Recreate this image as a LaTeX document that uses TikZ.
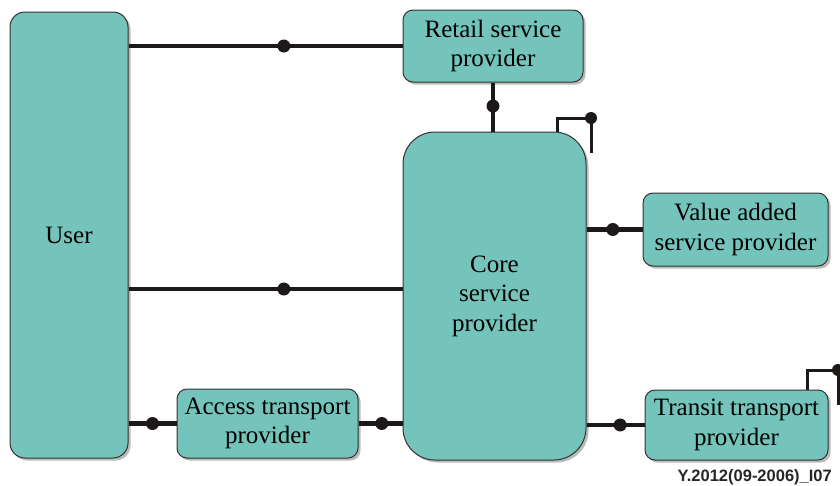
\documentclass[tikz,border=0pt]{standalone}
\usepackage{fontspec}
\setmainfont{Liberation Serif}
\newfontfamily\labelfont{Liberation Sans}
\usetikzlibrary{shadows,calc}
\definecolor{boxfill}{RGB}{116,196,187}
\definecolor{boxline}{RGB}{50,50,50}
\definecolor{linecol}{RGB}{30,25,25}
\tikzset{
  prov/.style={draw=boxline, line width=1pt, fill=boxfill, align=center,
    font=\fontsize{25}{29.5}\selectfont, inner sep=0pt,
    drop shadow={shadow xshift=2.5pt, shadow yshift=-2.5pt, fill=black!45, opacity=0.6}},
  conn/.style={draw=linecol, line width=4.5pt},
  loopline/.style={draw=linecol, line width=3pt},
  junction/.style={circle, fill=linecol, inner sep=0pt, minimum size=13pt}
}
\begin{document}
\begin{tikzpicture}[x=1pt,y=-1pt]
\useasboundingbox (0,0) rectangle (840,485);
\clip (0,0) rectangle (840,485);
\node[prov, minimum width=118pt, minimum height=446pt, rounded corners=15pt] (user) at (69,235) {User};
\node[prov, minimum width=180pt, minimum height=72pt, rounded corners=10pt] (retail) at (493,46) {Retail service\\provider};
\node[prov, minimum width=183pt, minimum height=328pt, rounded corners=32pt] (core) at (494.5,296) {Core\\service\\provider};
\node[prov, minimum width=185pt, minimum height=73pt, rounded corners=10pt] (value) at (735.5,229.5) {Value added\\service provider};
\node[prov, minimum width=181pt, minimum height=69pt, rounded corners=10pt] (access) at (267.5,423.5) {Access transport\\provider};
\node[prov, minimum width=183pt, minimum height=70pt, rounded corners=10pt] (transit) at (736.5,425) {Transit transport\\provider};
\node[font=\labelfont\bfseries\fontsize{16.5}{18}\selectfont, anchor=east, text=black!85, inner sep=0pt] (tag) at (832,477) {Y.2012(09-2006)\_I07};

% connectors
\draw[conn] (user.east |- retail.west) -- node[junction, pos=0.567] (j1) {} (retail.west);
\coordinate (ucy) at (0,289);
\draw[conn] (user.east |- ucy) -- node[junction, pos=0.567] (j2) {} (core.west |- ucy);
\draw[conn] (user.east |- access.west) -- node[junction, pos=0.5] (j3) {} (access.west);
\draw[conn] (access.east) -- node[junction, pos=0.53] (j4) {} (core.west |- access.east);
\draw[conn] (retail.south) -- node[junction, pos=0.48] (j5) {} (core.north -| retail.south);
\draw[conn] (core.east |- value.west) -- node[junction, pos=0.47] (j6) {} (value.west);
\draw[conn] (core.east |- transit.west) -- node[junction, pos=0.58] (j7) {} (transit.west);

% self loops
\coordinate (cl1) at (557,132);
\coordinate (cl2) at (591,118);
\coordinate (cl3) at (591,153);
\draw[loopline] (cl1) |- (cl2) -- (cl3);
\node[junction, minimum size=12pt] (j8) at (cl2) {};
\coordinate (tl1) at (807,390);
\coordinate (tl2) at (838,370);
\coordinate (tl3) at (838,405);
\draw[loopline] (tl1) |- (tl2) -- (tl3);
\node[junction, minimum size=12pt] (j9) at (tl2) {};
\end{tikzpicture}
\end{document}
